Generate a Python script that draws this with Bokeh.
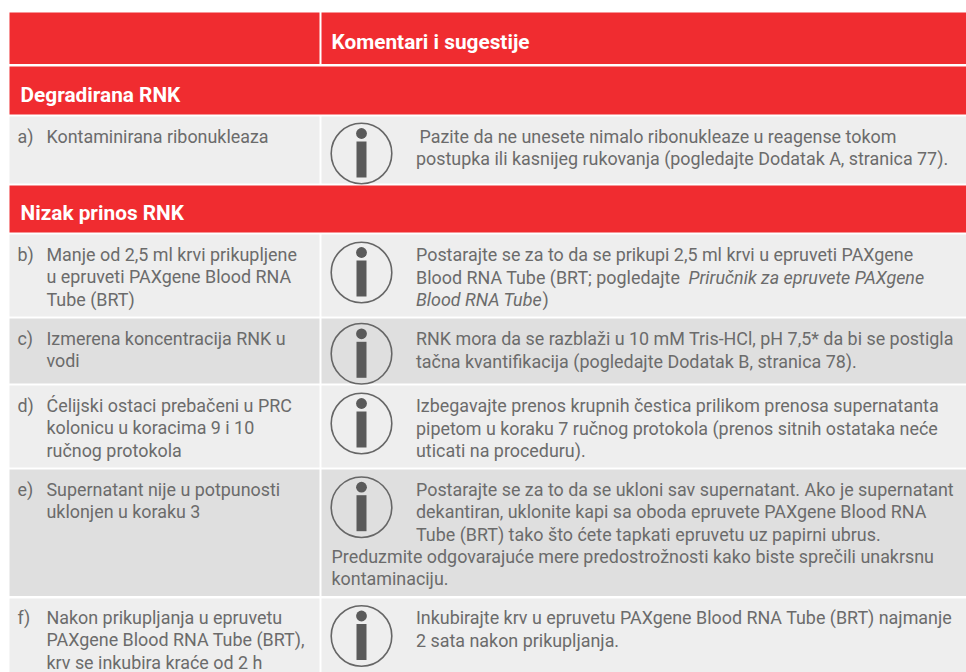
from bokeh.plotting import figure
from bokeh.models import Range1d
from bokeh.core.properties import value
from bokeh.embed import file_html
from bokeh.resources import INLINE

FONT = "Roboto"
RED, LIGHT, DARK, INK, ICON = "#F02C30", "#EEEEEE", "#DFDFDF", "#6B6B6B", "#5A5A5A"
BODY_SIZE, HEAD_SIZE = "17.9px", "20.8px"

# table content
header_title = "Komentari i sugestije"
section_titles = ["Degradirana RNK", "Nizak prinos RNK"]
row_keys = ["a)", "b)", "c)", "d)", "e)", "f)"]
row_causes = [
    ["Kontaminirana ribonukleaza"],
    ["Manje od 2,5 ml krvi prikupljene", "u epruveti PAXgene Blood RNA", "Tube (BRT)"],
    ["Izmerena koncentracija RNK u", "vodi"],
    ["Ćelijski ostaci prebačeni u PRC", "kolonicu u koracima 9 i 10", "ručnog protokola"],
    ["Supernatant nije u potpunosti", "uklonjen u koraku 3"],
    ["Nakon prikupljanja u epruvetu", "PAXgene Blood RNA Tube (BRT),", "krv se inkubira kraće od 2 h"],
]
# each right-hand line: (text, x, baseline, italic)
row_comments = [
    [("Pazite da ne unesete nimalo ribonukleaze u reagense tokom", 419, 142, False),
     ("postupka ili kasnijeg rukovanja (pogledajte Dodatak A, stranica 77).", 415.5, 164, False)],
    [("Postarajte se za to da se prikupi 2,5 ml krvi u epruveti PAXgene", 415.5, 260, False),
     ("Blood RNA Tube (BRT; pogledajte", 415.5, 283, False),
     ("Priručnik za epruvete PAXgene", 688, 283, True),
     ("Blood RNA Tube", 415.5, 305, True),
     (")", 542, 305, False)],
    [("RNK mora da se razblaži u 10 mM Tris-HCl, pH 7,5* da bi se postigla", 415.5, 344, False),
     ("tačna kvantifikacija (pogledajte Dodatak B, stranica 78).", 415.5, 367, False)],
    [("Izbegavajte prenos krupnih čestica prilikom prenosa supernatanta", 415.5, 411, False),
     ("pipetom u koraku 7 ručnog protokola (prenos sitnih ostataka neće", 415.5, 434, False),
     ("uticati na proceduru).", 415.5, 456, False)],
    [("Postarajte se za to da se ukloni sav supernatant. Ako je supernatant", 415.5, 495, False),
     ("dekantiran, uklonite kapi sa oboda epruvete PAXgene Blood RNA", 415.5, 517, False),
     ("Tube (BRT) tako što ćete tapkati epruvetu uz papirni ubrus.", 415.5, 540, False),
     ("Preduzmite odgovarajuće mere predostrožnosti kako biste sprečili unakrsnu", 331, 562, False),
     ("kontaminaciju.", 331, 584, False)],
    [("Inkubirajte krv u epruvetu PAXgene Blood RNA Tube (BRT) najmanje", 415.5, 623, False),
     ("2 sata nakon prikupljanja.", 415.5, 646, False)],
]

# geometry (page pixels)
X0, XM0, XM1, X1 = 9, 319, 321, 966
row_top = [116, 234, 318, 385, 469, 598]
row_bot = [183, 316, 383, 467, 595.5, 672]
row_fill = [LIGHT, LIGHT, DARK, LIGHT, DARK, LIGHT]
row_base = [142, 260, 344, 411, 495, 623]
icon_cy = [153, 272, 353.3, 423, 506.7, 635.5]
LINE = 22.6

p = figure(width=966, height=672, output_backend="svg", toolbar_location=None,
           x_range=Range1d(0, 966), y_range=Range1d(672, 0),
           min_border=0, outline_line_color=None, background_fill_color="white")
p.axis.visible = False
p.grid.visible = False

# red bands
p.quad(left=[X0, XM1, X0, X0], right=[XM0, X1, X1, X1],
       top=[12, 12, 66, 185], bottom=[63.5, 63.5, 114, 232],
       fill_color=RED, line_color=None)
# body cells
p.quad(left=[X0] * 6, right=[XM0] * 6, top=row_top, bottom=row_bot, fill_color=row_fill, line_color=None)
p.quad(left=[XM1] * 6, right=[X1] * 6, top=row_top, bottom=row_bot, fill_color=row_fill, line_color=None)

# icons
p.circle(x=[361] * 6, y=icon_cy, radius=30.3, fill_color=None, line_color="#666666", line_width=1.6)
p.circle(x=[361] * 6, y=[c - 20 for c in icon_cy], radius=5.4, fill_color=ICON, line_color=None)
p.quad(left=[356] * 6, right=[366] * 6, top=[c - 12 for c in icon_cy], bottom=[c + 24 for c in icon_cy],
       fill_color=ICON, line_color=None)

def put(xs, ys, txt, size, color, style="normal", shift=-6.5):
    p.text(x=xs, y=ys, text=txt, text_font=value(FONT), text_font_size=size, text_color=color,
           text_font_style=style, text_align="left", text_baseline="alphabetic", y_offset=shift)

# headings
put([331, 20, 20], [49, 102, 220], [header_title] + section_titles, HEAD_SIZE, "white", "bold", -7.5)

# left column
put([17] * 6, row_base, row_keys, BODY_SIZE, INK)
lx, ly, lt = [], [], []
for base, lines in zip(row_base, row_causes):
    for i, t in enumerate(lines):
        lx.append(46); ly.append(base + i * LINE); lt.append(t)
put(lx, ly, lt, BODY_SIZE, INK)

# right column
flat = [c for row in row_comments for c in row]
reg = [c for c in flat if not c[3]]
ita = [c for c in flat if c[3]]
put([c[1] for c in reg], [c[2] for c in reg], [c[0] for c in reg], BODY_SIZE, INK)
put([c[1] for c in ita], [c[2] for c in ita], [c[0] for c in ita], BODY_SIZE, INK, "italic")

open("out.html", "w").write(file_html(p, INLINE))
